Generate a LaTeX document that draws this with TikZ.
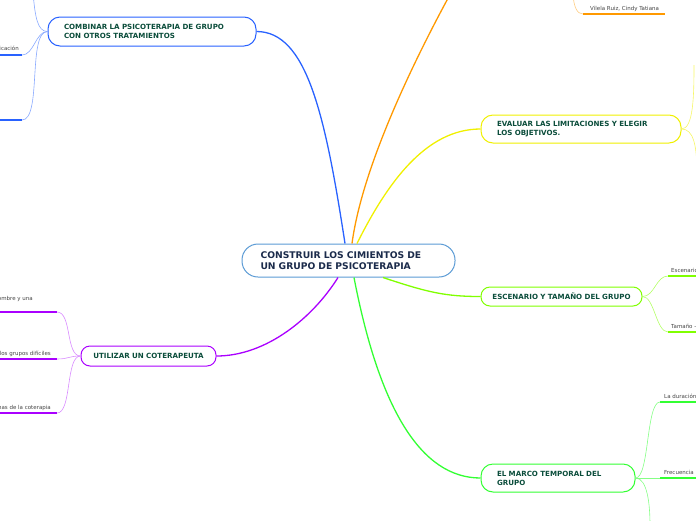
\documentclass[tikz,border=0pt]{standalone}
\usepackage{fontspec}
\setmainfont{DejaVu Sans}
\usetikzlibrary{calc,positioning}
\definecolor{verdeoscuro}{HTML}{0B4D3B}
\definecolor{azulnoche}{HTML}{1B2B4B}
\definecolor{celeste}{HTML}{5B9BD5}
\definecolor{azulrama}{HTML}{2962FF}
\definecolor{naranja}{HTML}{FF9900}
\definecolor{amarillo}{HTML}{F0F000}
\definecolor{lima}{HTML}{80FF00}
\definecolor{verde}{HTML}{33FF33}
\definecolor{violeta}{HTML}{AA00FF}
\definecolor{gristexto}{HTML}{444444}
\tikzset{
  centro/.style={
    rounded corners=16pt,
    draw=celeste,
    line width=1pt,
    fill=white,
    text=azulnoche,
    align=left,
    minimum height=33pt,
    inner xsep=18.5pt,
    inner ysep=0pt,
    font=\fontsize{9.2}{11}\selectfont\bfseries
  },
  rama/.style={
    rounded corners=12pt,
    line width=1pt,
    fill=white,
    text=verdeoscuro,
    align=left,
    inner xsep=16pt,
    inner ysep=0pt,
    font=\fontsize{7.1}{9}\selectfont\bfseries
  },
  hoja/.style={
    text=gristexto,
    inner sep=0pt,
    font=\fontsize{5.5}{6.5}\selectfont
  },
  enlace/.style={line width=1.3pt},
  subenlace/.style={line width=.6pt},
  subrayado/.style={line width=1.4pt}
}

\begin{document}
\begin{tikzpicture}[x=1pt,y=-1pt]
\useasboundingbox (0,0) rectangle (696,520);
% nodos principales
\node[centro, text width=176pt, minimum width=213pt] (raiz) at (348.5,260.5) {CONSTRUIR LOS CIMIENTOS DE\\UN GRUPO DE PSICOTERAPIA};
\node[rama, draw=azulrama, text width=176pt, minimum width=208pt, minimum height=29pt] (comb) at (152,31.5) {COMBINAR LA PSICOTERAPIA DE GRUPO\\CON OTROS TRATAMIENTOS};
\node[rama, draw=violeta, rounded corners=9pt, align=center, text width=115pt, minimum width=135pt, minimum height=20pt, inner xsep=10pt] (cot) at (148.5,356) {UTILIZAR UN COTERAPEUTA};
\node[rama, draw=amarillo, text width=168pt, minimum width=200pt, minimum height=28pt] (eval) at (581,129) {EVALUAR LAS LIMITACIONES Y ELEGIR\\LOS OBJETIVOS.};
\node[rama, draw=lima, rounded corners=9pt, align=center, text width=141pt, minimum width=161pt, minimum height=19pt, inner xsep=10pt] (esc) at (561.5,296.5) {ESCENARIO Y TAMAÑO DEL GRUPO};
\node[rama, draw=verde, text width=122pt, minimum width=154pt, minimum height=28pt] (marco) at (558,478) {EL MARCO TEMPORAL DEL\\GRUPO};
\coordinate (nfin) at (458,-20);

% ramas desde el centro
\draw[enlace, azulrama] ([xshift=-3.5pt]raiz.north) .. controls +(-20,-130) and +(50,0) .. (comb.east);
\draw[enlace, naranja] ([xshift=3.5pt]raiz.north) .. controls +(12,-90) and +(-25,45) .. (nfin);
\draw[enlace, amarillo] ([xshift=8.5pt]raiz.north) .. controls +(30,-60) and +(-55,0) .. (eval.west);
\draw[enlace, violeta] ([xshift=-10.5pt]raiz.south) .. controls +(-25,40) and +(50,0) .. (cot.east);
\draw[enlace, verde] ([xshift=5.5pt]raiz.south) .. controls +(25,130) and +(-60,0) .. (marco.west);
\draw[enlace, lima] ([xshift=34.5pt]raiz.south) .. controls +(45,15) and +(-35,0) .. (esc.west);

% combinar
\coordinate (b0) at (33,-8);
\coordinate (b1) at (22,55);
\coordinate (b1x) at (-5,55);
\coordinate (b2) at (22,120);
\coordinate (b2x) at (-5,120);
\draw[subenlace, azulrama!55] (comb.west) .. controls +(-10,0) and +(2,25) .. (b0);
\draw[subenlace, azulrama!55] (comb.west) .. controls +(-12,0) and +(12,0) .. (b1);
\draw[subenlace, azulrama!55] (comb.west) .. controls +(-20,0) and +(20,0) .. (b2);
\draw[subrayado, azulrama] (b1) -- (b1x);
\draw[subrayado, azulrama] (b2) -- (b2x);
\node[hoja, anchor=base east] (t1) at (19,50) {icación};

% coterapeuta
\coordinate (p1) at (57,312);
\coordinate (p1x) at (-5,312);
\coordinate (p2) at (57,359);
\coordinate (p2x) at (-5,359);
\coordinate (p3) at (57,413);
\coordinate (p3x) at (-5,413);
\draw[subenlace, violeta!45] (cot.west) .. controls +(-15,0) and +(15,0) .. (p1);
\draw[subenlace, violeta!45] (cot.west) .. controls +(-12,0) and +(12,0) .. (p2);
\draw[subenlace, violeta!45] (cot.west) .. controls +(-15,0) and +(15,0) .. (p3);
\draw[subrayado, violeta] (p1) -- (p1x);
\draw[subrayado, violeta] (p2) -- (p2x);
\draw[subrayado, violeta] (p3) -- (p3x);
\node[hoja, anchor=base east] (t2) at (33,300) {ombre y una};
\node[hoja, anchor=base east] (t3) at (51,355) {los grupos difíciles};
\node[hoja, anchor=base east] (t4) at (51,409) {nas de la coterapia};

% autora
\coordinate (o0) at (573,-5);
\coordinate (o1) at (583,14);
\coordinate (o2) at (665,14);
\draw[subenlace, naranja!50] (o0) .. controls +(1,12) and +(-6,0) .. (o1);
\draw[subrayado, naranja] (o1) -- (o2);
\node[hoja, anchor=base west] (t5) at (590,10) {Vilela Ruiz, Cindy Tatiana};

% limitaciones
\coordinate (y1) at (694,65);
\coordinate (y2) at (697,175);
\draw[subenlace, amarillo!60] (eval.east) .. controls +(12,0) and +(0,30) .. (y1);
\draw[subenlace, amarillo!60] (eval.east) .. controls +(12,0) and +(0,-30) .. (y2);

% escenario
\coordinate (e1) at (668,276);
\coordinate (e1x) at (701,276);
\coordinate (e2) at (668,332);
\coordinate (e2x) at (701,332);
\draw[subenlace, lima!60] (esc.east) .. controls +(12,0) and +(-12,0) .. (e1);
\draw[subenlace, lima!60] (esc.east) .. controls +(12,0) and +(-12,0) .. (e2);
\draw[subrayado, lima] (e1) -- (e1x);
\draw[subrayado, lima] (e2) -- (e2x);
\node[hoja, anchor=base west] (t6) at (671,272) {Escenario};
\node[hoja, anchor=base west] (t7) at (671,328) {Tamaño -};

% marco temporal
\coordinate (g1) at (660,402);
\coordinate (g1x) at (701,402);
\coordinate (g2) at (660,478);
\coordinate (g2x) at (701,478);
\coordinate (g3) at (650,525);
\draw[subenlace, verde!60] (marco.east) .. controls +(14,0) and +(-14,0) .. (g1);
\draw[subenlace, verde!60] (marco.east) -- (g2);
\draw[subenlace, verde!60] (marco.east) .. controls +(12,0) and +(0,-20) .. (g3);
\draw[subrayado, verde] (g1) -- (g1x);
\draw[subrayado, verde] (g2) -- (g2x);
\node[hoja, anchor=base west] (t8) at (664,398) {La duración};
\node[hoja, anchor=base west] (t9) at (664,474) {Frecuencia};
\end{tikzpicture}
\end{document}
